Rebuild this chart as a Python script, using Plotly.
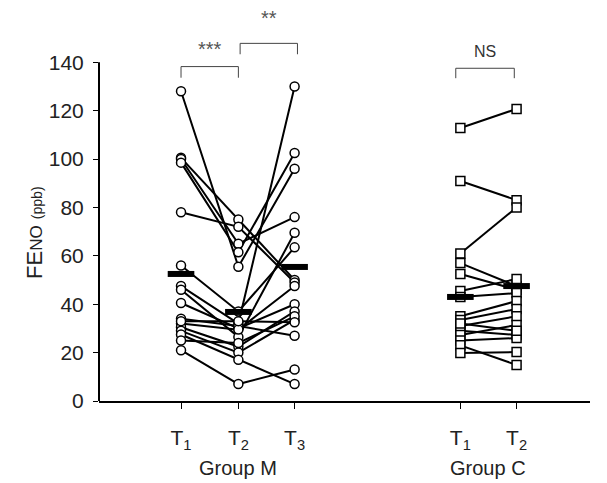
import plotly.graph_objects as go

# ---- data ----
m_times = ["T1", "T2", "T3"]
c_times = ["T1", "T2"]
m_t1 = [128, 100.5, 100, 98.5, 78, 56, 47.5, 46, 40.5, 34, 32, 30.5, 29, 27.5, 25, 21, 33]
m_t2 = [55.5, 75, 65, 61.5, 72, 37, 32, 26.5, 30, 31, 29.5, 22.5, 20, 17, 24, 7, 33]
m_t3 = [96, 50, 76, 102.5, 49, 63.5, 130, 69.5, 40, 27, 47.5, 37, 33.5, 7, 35, 13, 32.5]
c_t1 = [112.8, 90.9, 61, 57, 52.5, 45.5, 43, 35, 33.5, 31, 29, 27.3, 25, 23, 19.8, 32]
c_t2 = [120.7, 83, 80, 47.5, 46, 50.4, 44.6, 41.3, 38, 35, 27.3, 31.4, 26, 14.9, 20.2, 29]
m_means = [52.5, 36.8, 55.4]
c_means = [43, 47.5]
y_ticks = [0, 20, 40, 60, 80, 100, 120, 140]
sig_labels = ["***", "**", "NS"]

# ---- positions ----
m_pos = [1.0, 2.0, 2.98]
c_pos = [5.87, 6.85]
FONT = "Liberation Sans, Arial, sans-serif"

fig = go.Figure()

def add_group(pos, series, symbol):
    xs, ys = [], []
    for vals in zip(*series):
        xs += list(pos) + [None]
        ys += list(vals) + [None]
    fig.add_trace(go.Scatter(x=xs, y=ys, mode="lines",
                             line=dict(color="black", width=2),
                             hoverinfo="skip", showlegend=False))
    mx, my = [], []
    for p, s in zip(pos, series):
        mx += [p] * len(s)
        my += list(s)
    fig.add_trace(go.Scatter(x=mx, y=my, mode="markers",
                             marker=dict(symbol=symbol, size=9, color="white",
                                         line=dict(color="black", width=1.5)),
                             showlegend=False, cliponaxis=False))

add_group(m_pos, [m_t1, m_t2, m_t3], "circle")
add_group(c_pos, [c_t1, c_t2], "square")

fig.add_trace(go.Scatter(x=m_pos + c_pos, y=m_means + c_means, mode="markers",
                         marker=dict(symbol="line-ew", size=19, color="black",
                                     line=dict(color="black", width=6)),
                         showlegend=False))

# significance brackets
brackets = [
    (m_pos[0], m_pos[1], 138.2, 133.6, sig_labels[0], 140.0, 20, "#555"),
    (m_pos[1] + 0.03, m_pos[2] + 0.05, 147.8, 143.3, sig_labels[1], 153.0, 20, "#555"),
    (c_pos[0] - 0.08, c_pos[1] - 0.04, 137.5, 133.4, sig_labels[2], 140.0, 16, "#333"),
]
for x0, x1, yt, yb, lab, ylab, fs, col in brackets:
    fig.add_trace(go.Scatter(x=[x0, x0, x1, x1], y=[yb, yt, yt, yb], mode="lines",
                             line=dict(color="#444", width=1),
                             hoverinfo="skip", showlegend=False))
    fig.add_annotation(x=(x0 + x1) / 2, y=ylab, text=lab, showarrow=False,
                       yanchor="bottom", font=dict(size=fs, color=col, family=FONT))

# y-axis line only up to 140
fig.add_shape(type="line", xref="x domain", yref="y", x0=0, x1=0, y0=0, y1=140,
              line=dict(color="black", width=2))

tick_text = ["T<sub>1</sub>", "T<sub>2</sub>", "T<sub>3</sub>", "T<sub>1</sub>", "T<sub>2</sub>"]
fig.update_xaxes(range=[-0.43, 8.13], tickmode="array", tickvals=m_pos + c_pos,
                 ticktext=tick_text, ticks="outside", ticklen=6, tickwidth=1,
                 tickcolor="black", showline=True, linecolor="black", linewidth=2,
                 showgrid=False, zeroline=False, ticklabelstandoff=11,
                 tickfont=dict(size=21, family=FONT, color="#222"))
fig.update_yaxes(range=[0, 162], tickmode="array", tickvals=y_ticks,
                 ticks="outside", ticklen=5, tickwidth=1, tickcolor="black",
                 showline=False, showgrid=False, zeroline=False,
                 ticklabelstandoff=5,
                 tickfont=dict(size=21, family=FONT, color="#222"))

fig.add_annotation(xref="paper", yref="paper", x=-0.161, y=0.43,
                   text="FE<span style='font-size:17px'>NO</span> <span style='font-size:14px'>(ppb)</span>",
                   textangle=-90, showarrow=False,
                   font=dict(size=22, family=FONT, color="#222"))
for label, px in [("Group M", m_pos[1]), ("Group C", (c_pos[0] + c_pos[1]) / 2)]:
    fig.add_annotation(x=px, xref="x", y=-0.17, yref="paper", text=label,
                       showarrow=False, yanchor="middle",
                       font=dict(size=20, family=FONT, color="#222"))

fig.update_layout(width=591, height=475, margin=dict(l=91, r=9, t=1, b=82),
                  plot_bgcolor="white", paper_bgcolor="white",
                  font=dict(family=FONT))
fig.write_html("out.html")
